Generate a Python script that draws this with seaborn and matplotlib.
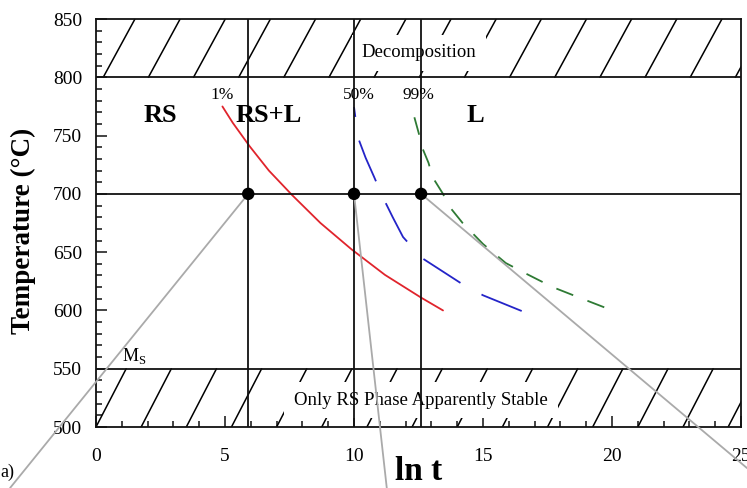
import numpy as np
import seaborn as sns
from matplotlib import pyplot as plt
from matplotlib import ticker

# transformation curves (ln t, temperature in C)
red_x = [4.9, 5.3, 5.95, 6.7, 7.6, 8.7, 9.9, 11.2, 12.6, 13.45]
red_t = [775, 761, 741, 720, 699, 675, 652.5, 630.5, 611, 600]

blue_x = [10.0, 10.16, 10.45, 10.78, 11.12, 11.5, 11.9, 12.63, 13.4, 14.19, 15.0, 16.5]
blue_t = [774.5, 748, 731, 714.5, 697, 680, 663, 645, 634, 622.7, 613, 599.5]

green_x = [12.34, 12.51, 12.65, 12.89, 13.04, 13.43, 13.74, 14.21, 15.0, 15.88, 16.54, 17.7, 18.87, 20.07]
green_t = [765.7, 752, 739.3, 726.5, 714.5, 700.7, 687.9, 675, 657, 640.7, 633, 620, 609.8, 599.5]

# 700 C isotherm crossings and leader lines to the micrographs
mark_x = [5.9, 10.0, 12.6]
mark_t = [700, 700, 700]
leader_end_x = [-3.33, 11.27, 25.23]
leader_end_t = [447.7, 447.7, 464.8]

decomp_band = (800, 850)
stable_band = (500, 550)
ms_temp = 550

x_ticks = [0, 5, 10, 15, 20, 25]
y_ticks = [500, 550, 600, 650, 700, 750, 800, 850]

sns.set_theme(style='ticks')
plt.rcParams['font.family'] = ['Liberation Serif', 'DejaVu Serif']
plt.rcParams['mathtext.fontset'] = 'custom'
plt.rcParams['mathtext.rm'] = 'Liberation Serif'
plt.rcParams['lines.scale_dashes'] = False
for key in ['text.color', 'axes.labelcolor', 'xtick.color', 'ytick.color',
            'xtick.labelcolor', 'ytick.labelcolor']:
    plt.rcParams[key] = 'black'

fig = plt.figure(figsize=(7.47, 4.88), dpi=100)
ax = fig.add_axes([0.1285, 0.125, 0.8635, 0.836])
ax.set_xlim(0, 25)
ax.set_ylim(500, 850)


def hatch_band(lo, hi, x0, step, lean):
    for s in np.arange(x0, 25, step):
        ax.plot([s, s + lean], [lo, hi], color='black', lw=1.1, zorder=1)


hatch_band(*decomp_band, 0.28, 1.75, 1.23)
hatch_band(*stable_band, 0.0, 1.75, 1.17)

for t in [decomp_band[0], 700, stable_band[1]]:
    ax.axhline(t, color='#111111', lw=1.3, zorder=3)
for x in mark_x:
    ax.axvline(x, color='#111111', lw=1.3, zorder=3)

sns.lineplot(x=red_x, y=red_t, color='#e0242c', lw=1.3, ax=ax, zorder=2)
sns.lineplot(x=blue_x, y=blue_t, color='#2424c8', lw=1.3, ax=ax, zorder=2,
             linestyle=(24.5, (31.7, 17.3)))
sns.lineplot(x=green_x, y=green_t, color='#2e7a34', lw=1.3, ax=ax, zorder=2,
             linestyle=(0, (13, 11)))

for x, t, ex, et in zip(mark_x, mark_t, leader_end_x, leader_end_t):
    ax.plot([x, ex], [t, et], color='#aaaaaa', lw=1.3, zorder=4, clip_on=False)

sns.scatterplot(x=mark_x, y=mark_t, color='black', s=80, ax=ax, zorder=5,
                edgecolor='none')

box = dict(fc='white', ec='none', pad=7)
ax.text(12.52, 821, 'Decomposition', fontsize=13.5, ha='center', va='center',
        bbox=box, zorder=2.5)
ax.text(12.6, 523, 'Only RS Phase Apparently Stable', fontsize=13.5,
        ha='center', va='center', bbox=box, zorder=2.5)

for label, x in [('RS', 2.5), ('RS+L', 6.7), ('L', 14.7)]:
    ax.text(x, 767, label, fontsize=19, fontweight='bold', ha='center',
            va='center')
for label, x in [('1%', 4.9), ('50%', 10.2), ('99%', 12.5)]:
    ax.text(x, 785, label, fontsize=12.5, ha='center', va='center')
ax.text(1.5, ms_temp + 2, r'M$_\mathrm{S}$', fontsize=13, ha='center',
        va='bottom')

fig.text(0.0, 0.033, 'a)', fontsize=13, ha='left', va='center')

ax.set_xticks(x_ticks)
ax.set_yticks(y_ticks)
ax.xaxis.set_minor_locator(ticker.MultipleLocator(1))
ax.yaxis.set_minor_locator(ticker.MultipleLocator(10))
ax.tick_params(which='both', direction='in', top=False, right=False,
               color='#111111', width=1.1)
ax.tick_params(which='major', length=8, labelsize=14)
ax.tick_params(axis='x', which='major', pad=15)
ax.tick_params(axis='y', which='major', pad=10)
ax.tick_params(which='minor', length=4)
for sp in ax.spines.values():
    sp.set_linewidth(1.3)
    sp.set_color('#111111')

ax.set_xlabel('ln t', fontsize=24, fontweight='bold')
ax.set_ylabel('Temperature (°C)', fontsize=19.5, fontweight='bold')
ax.xaxis.set_label_coords(0.5, -0.07)
ax.yaxis.set_label_coords(-0.093, 0.48)

fig.savefig('out.png', dpi=100)
